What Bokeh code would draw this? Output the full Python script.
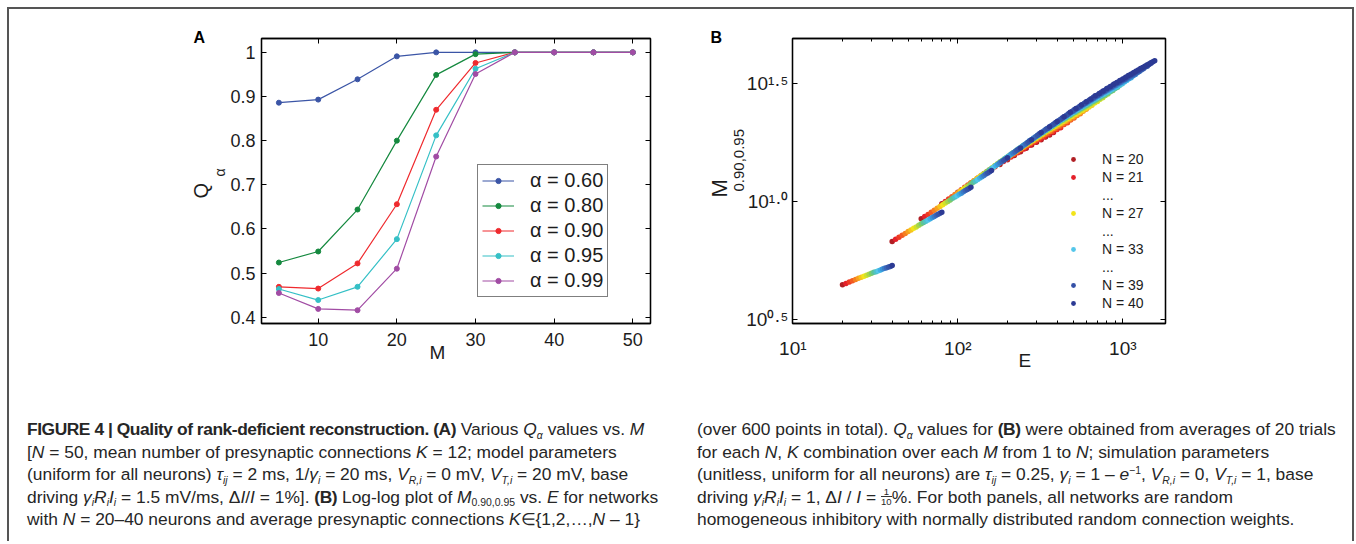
import math
from bokeh.plotting import figure
from bokeh.models import (ColumnDataSource, Legend, LegendItem, LinearAxis, LogAxis,
                          FixedTicker, CustomJSTickFormatter, Div, Title)
from bokeh.layouts import column, row
from bokeh.embed import file_html
from bokeh.resources import INLINE

FONT = "Liberation Sans"
TXT = "#1c1c1c"

# ---------------- Panel A data ----------------
m_values = [5, 10, 15, 20, 25, 30, 35, 40, 45, 50]
q_alpha_060 = [0.886, 0.893, 0.939, 0.991, 1.000, 1.000, 1.000, 1.000, 1.000, 1.000]
q_alpha_080 = [0.524, 0.549, 0.644, 0.800, 0.949, 0.996, 1.000, 1.000, 1.000, 1.000]
q_alpha_090 = [0.469, 0.465, 0.522, 0.656, 0.870, 0.976, 1.000, 1.000, 1.000, 1.000]
q_alpha_095 = [0.464, 0.439, 0.469, 0.577, 0.812, 0.963, 1.000, 1.000, 1.000, 1.000]
q_alpha_099 = [0.455, 0.419, 0.416, 0.510, 0.764, 0.951, 1.000, 1.000, 1.000, 1.000]
alpha_labels = ["α = 0.60", "α = 0.80", "α = 0.90", "α = 0.95", "α = 0.99"]
alpha_colors = ["#3b55a6", "#15893f", "#ef2a2e", "#35c0c6", "#a14ca4"]
a_x_ticks = [10, 20, 30, 40, 50]
a_y_ticks = [0.4, 0.5, 0.6, 0.7, 0.8, 0.9, 1.0]

# ---------------- Panel B data (log10 of M_0.90,0.95 for K = 1 .. N-1) ----------------
n_values = list(range(20, 41))
logm_n20 = [.647, .831, .927, .991, 1.040, 1.078, 1.109, 1.136, 1.158, 1.178, 1.196, 1.212, 1.227, 1.240, 1.252, 1.263, 1.274, 1.283, 1.293]
logm_n21 = [.653, .840, .937, 1.001, 1.051, 1.089, 1.120, 1.148, 1.170, 1.190, 1.208, 1.224, 1.239, 1.253, 1.265, 1.276, 1.287, 1.296, 1.306, 1.314]
logm_n22 = [.659, .849, .946, 1.011, 1.061, 1.100, 1.131, 1.159, 1.181, 1.201, 1.220, 1.236, 1.251, 1.264, 1.277, 1.288, 1.299, 1.308, 1.318, 1.327, 1.335]
logm_n23 = [.664, .857, .955, 1.021, 1.071, 1.110, 1.141, 1.169, 1.192, 1.212, 1.231, 1.247, 1.262, 1.276, 1.288, 1.299, 1.311, 1.320, 1.330, 1.338, 1.347, 1.355]
logm_n24 = [.670, .865, .964, 1.030, 1.080, 1.119, 1.151, 1.179, 1.202, 1.222, 1.241, 1.257, 1.273, 1.286, 1.299, 1.310, 1.322, 1.331, 1.341, 1.350, 1.358, 1.366, 1.373]
logm_n25 = [.675, .873, .972, 1.038, 1.089, 1.128, 1.160, 1.188, 1.211, 1.232, 1.251, 1.267, 1.283, 1.297, 1.309, 1.321, 1.332, 1.341, 1.352, 1.360, 1.369, 1.377, 1.384, 1.392]
logm_n26 = [.679, .880, .980, 1.046, 1.097, 1.137, 1.169, 1.197, 1.220, 1.241, 1.260, 1.277, 1.293, 1.306, 1.319, 1.331, 1.342, 1.352, 1.362, 1.371, 1.379, 1.387, 1.395, 1.402, 1.409]
logm_n27 = [.684, .887, .987, 1.054, 1.105, 1.145, 1.178, 1.206, 1.229, 1.250, 1.269, 1.286, 1.302, 1.316, 1.328, 1.340, 1.352, 1.361, 1.372, 1.380, 1.389, 1.397, 1.405, 1.412, 1.419, 1.425]
logm_n28 = [.688, .893, .994, 1.061, 1.113, 1.153, 1.186, 1.214, 1.238, 1.259, 1.278, 1.295, 1.311, 1.325, 1.337, 1.349, 1.361, 1.371, 1.381, 1.390, 1.398, 1.407, 1.414, 1.422, 1.428, 1.435, 1.441]
logm_n29 = [.692, .900, 1.001, 1.068, 1.120, 1.161, 1.194, 1.222, 1.246, 1.267, 1.286, 1.303, 1.319, 1.333, 1.346, 1.358, 1.370, 1.379, 1.390, 1.399, 1.407, 1.416, 1.424, 1.431, 1.438, 1.444, 1.451, 1.457]
logm_n30 = [.696, .906, 1.007, 1.075, 1.127, 1.168, 1.201, 1.230, 1.253, 1.275, 1.294, 1.311, 1.328, 1.342, 1.354, 1.366, 1.378, 1.388, 1.399, 1.407, 1.416, 1.425, 1.432, 1.440, 1.447, 1.453, 1.460, 1.466, 1.472]
logm_n31 = [.700, .912, 1.014, 1.082, 1.134, 1.175, 1.208, 1.237, 1.261, 1.283, 1.302, 1.319, 1.335, 1.350, 1.363, 1.375, 1.386, 1.396, 1.407, 1.416, 1.425, 1.433, 1.441, 1.449, 1.455, 1.462, 1.468, 1.475, 1.480, 1.486]
logm_n32 = [.703, .917, 1.020, 1.088, 1.141, 1.182, 1.215, 1.244, 1.268, 1.290, 1.309, 1.327, 1.343, 1.357, 1.370, 1.382, 1.394, 1.404, 1.415, 1.424, 1.433, 1.441, 1.449, 1.457, 1.463, 1.470, 1.477, 1.483, 1.489, 1.494, 1.500]
logm_n33 = [.707, .922, 1.025, 1.094, 1.147, 1.188, 1.222, 1.251, 1.275, 1.297, 1.316, 1.334, 1.350, 1.365, 1.378, 1.390, 1.402, 1.412, 1.423, 1.432, 1.440, 1.449, 1.457, 1.465, 1.471, 1.478, 1.485, 1.491, 1.497, 1.503, 1.508, 1.514]
logm_n34 = [.710, .928, 1.031, 1.100, 1.153, 1.194, 1.228, 1.258, 1.282, 1.304, 1.323, 1.341, 1.357, 1.372, 1.385, 1.397, 1.409, 1.419, 1.430, 1.439, 1.448, 1.457, 1.465, 1.472, 1.479, 1.486, 1.493, 1.499, 1.505, 1.510, 1.516, 1.522, 1.526]
logm_n35 = [.714, .933, 1.036, 1.106, 1.159, 1.201, 1.234, 1.264, 1.288, 1.310, 1.330, 1.348, 1.364, 1.379, 1.392, 1.404, 1.416, 1.426, 1.437, 1.446, 1.455, 1.464, 1.472, 1.480, 1.487, 1.493, 1.500, 1.507, 1.512, 1.518, 1.524, 1.529, 1.534, 1.540]
logm_n36 = [.717, .937, 1.042, 1.111, 1.165, 1.206, 1.240, 1.270, 1.295, 1.317, 1.337, 1.354, 1.371, 1.385, 1.399, 1.411, 1.423, 1.433, 1.444, 1.453, 1.462, 1.471, 1.479, 1.487, 1.494, 1.501, 1.507, 1.514, 1.520, 1.526, 1.531, 1.537, 1.541, 1.547, 1.552]
logm_n37 = [.720, .942, 1.047, 1.117, 1.170, 1.212, 1.246, 1.276, 1.301, 1.323, 1.343, 1.361, 1.377, 1.392, 1.405, 1.418, 1.430, 1.440, 1.451, 1.460, 1.469, 1.478, 1.486, 1.494, 1.501, 1.508, 1.515, 1.521, 1.527, 1.533, 1.538, 1.544, 1.549, 1.554, 1.559, 1.564]
logm_n38 = [.723, .947, 1.052, 1.122, 1.176, 1.218, 1.252, 1.282, 1.307, 1.329, 1.349, 1.367, 1.384, 1.398, 1.412, 1.424, 1.436, 1.447, 1.458, 1.467, 1.476, 1.485, 1.493, 1.501, 1.508, 1.515, 1.521, 1.528, 1.534, 1.540, 1.545, 1.551, 1.556, 1.562, 1.566, 1.571, 1.575]
logm_n39 = [.725, .951, 1.056, 1.127, 1.181, 1.223, 1.258, 1.288, 1.312, 1.335, 1.355, 1.373, 1.390, 1.404, 1.418, 1.430, 1.443, 1.453, 1.464, 1.473, 1.482, 1.491, 1.500, 1.507, 1.514, 1.521, 1.528, 1.535, 1.541, 1.547, 1.552, 1.558, 1.563, 1.568, 1.573, 1.578, 1.582, 1.587]
logm_n40 = [.729, .955, 1.061, 1.132, 1.186, 1.228, 1.263, 1.293, 1.318, 1.340, 1.360, 1.379, 1.395, 1.410, 1.424, 1.436, 1.449, 1.459, 1.470, 1.480, 1.489, 1.498, 1.506, 1.514, 1.521, 1.528, 1.535, 1.541, 1.547, 1.553, 1.559, 1.565, 1.569, 1.575, 1.580, 1.584, 1.589, 1.594, 1.598]
logm_by_n = [logm_n20, logm_n21, logm_n22, logm_n23, logm_n24, logm_n25, logm_n26,
             logm_n27, logm_n28, logm_n29, logm_n30, logm_n31, logm_n32, logm_n33,
             logm_n34, logm_n35, logm_n36, logm_n37, logm_n38, logm_n39, logm_n40]
n_colors = ["#b01e24", "#e4202a", "#ee3a24", "#f25a22", "#f57e20", "#f8a01e", "#f7c41c",
            "#f2e41a", "#cfe12c", "#a6d54a", "#7ccb6a", "#5cc39a", "#4ec2c8", "#54c6ea",
            "#3eb0e6", "#3a94d8", "#3a7cc8", "#3a66b8", "#3656aa", "#3450a6", "#2c3a94"]
legend_b_entries = [("N = 20", 20), ("N = 21", 21), ("...", None), ("N = 27", 27), ("...", None),
                    ("N = 33", 33), ("...", None), ("N = 39", 39), ("N = 40", 40)]
b_x_ticks = [10, 100, 1000]
b_x_minor = [20, 30, 40, 50, 60, 70, 80, 90, 200, 300, 400, 500, 600, 700, 800, 900]
b_x_tick_labels = ["10¹", "10²", "10³"]
b_y_ticks = [10 ** 0.5, 10 ** 1.0, 10 ** 1.5]
b_y_tick_labels = ["10⁰·⁵", "10¹·⁰", "10¹·⁵"]

PICK_LABEL = """
let best = 0;
let bd = Infinity;
for (let i = 0; i < tvals.length; i++) {
  const d = Math.abs(Math.log(tick) - Math.log(tvals[i]));
  if (d < bd) { bd = d; best = i; }
}
return ttext[best];
"""


def style_axis(ax, show_labels, major_in=5, minor_in=0, size="18px"):
    ax.axis_line_color = "black"
    ax.axis_line_width = 1.3
    ax.major_tick_line_color = "black"
    ax.major_tick_line_width = 1
    ax.major_tick_in = major_in
    ax.major_tick_out = 0
    ax.minor_tick_line_color = "black"
    ax.minor_tick_line_width = 1
    ax.minor_tick_in = minor_in
    ax.minor_tick_out = 0
    ax.major_label_text_font = FONT
    ax.major_label_text_color = TXT
    if show_labels:
        ax.major_label_text_font_size = size
    else:
        ax.formatter = CustomJSTickFormatter(code="return '';")
        ax.major_label_standoff = 0
        ax.major_label_text_font_size = "1px"


def title(text, size, align_offset, standoff, valign="bottom", bold=False):
    return Title(text=text, align="left", offset=align_offset, standoff=standoff,
                 vertical_align=valign, text_font=FONT, text_font_size=size,
                 text_font_style="bold" if bold else "normal",
                 text_color="black" if bold else TXT)


# ---------------- Figure A ----------------
xa0, xa1 = 2.79, 52.25
ya0, ya1 = 0.3859, 1.0314
pA = figure(width=681, height=371, x_range=(xa0, xa1), y_range=(ya0, ya1),
            output_backend="svg", toolbar_location=None,
            min_border_left=252, min_border_right=40, min_border_top=26, min_border_bottom=57)
pA.xgrid.visible = False
pA.ygrid.visible = False
pA.outline_line_color = "black"
pA.outline_line_width = 1.3
pA.background_fill_color = "white"
pA.border_fill_color = "white"

axA_b = pA.below[0]
axA_l = pA.left[0]
axA_b.ticker = FixedTicker(ticks=a_x_ticks)
axA_l.ticker = FixedTicker(ticks=a_y_ticks)
style_axis(axA_b, True)
style_axis(axA_l, True)
axA_l.formatter = CustomJSTickFormatter(code="return tick > 0.999 ? '1' : tick.toFixed(1);")
axA_b.major_label_standoff = 9
axA_l.major_label_standoff = 6
axA_t = LinearAxis(ticker=FixedTicker(ticks=a_x_ticks))
axA_r = LinearAxis(ticker=FixedTicker(ticks=a_y_ticks))
style_axis(axA_t, False)
style_axis(axA_r, False)
pA.add_layout(axA_t, "above")
pA.add_layout(axA_r, "right")

# axis titles and panel letter (side panels)
pA.add_layout(title("α", "14px", 147, 0), "left")
pA.add_layout(title("Q", "20px", 125, -4), "left")
pA.add_layout(title("M", "19px", 168, -14, valign="top"), "below")
pA.add_layout(title("A", "16px", -68, -14, bold=True), "above")

itemsA = []
for lab, q, col in zip(alpha_labels,
                       [q_alpha_060, q_alpha_080, q_alpha_090, q_alpha_095, q_alpha_099],
                       alpha_colors):
    src = ColumnDataSource(dict(x=m_values, y=q))
    rl = pA.line("x", "y", source=src, line_color=col, line_width=1.2)
    rs = pA.scatter("x", "y", source=src, marker="circle", size=5, fill_color=col, line_color=col)
    itemsA.append(LegendItem(label=lab, renderers=[rl, rs]))

legA = Legend(items=itemsA, location=(216, 26))
legA.padding = 4
legA.spacing = 2
legA.margin = 0
legA.label_height = 23
legA.glyph_height = 13
legA.glyph_width = 32
legA.label_standoff = 16
legA.border_line_color = "black"
legA.border_line_width = 1.5
legA.background_fill_color = "white"
legA.background_fill_alpha = 1
legA.label_text_font = FONT
legA.label_text_font_size = "20px"
legA.label_text_color = TXT
pA.add_layout(legA)

# ---------------- Figure B ----------------
xb0, xb1 = 10 ** 0.998, 10 ** 3.2586
yb0, yb1 = 10 ** 0.483, 10 ** 1.6924
pB = figure(width=662, height=371, x_axis_type="log", y_axis_type="log",
            x_range=(xb0, xb1), y_range=(yb0, yb1),
            output_backend="svg", toolbar_location=None,
            min_border_left=102, min_border_right=187, min_border_top=29, min_border_bottom=57)
pB.xgrid.visible = False
pB.ygrid.visible = False
pB.outline_line_color = "black"
pB.outline_line_width = 1.3
pB.background_fill_color = "white"
pB.border_fill_color = "white"

axB_b = pB.below[0]
axB_l = pB.left[0]
axB_b.ticker = FixedTicker(ticks=b_x_ticks, minor_ticks=b_x_minor)
axB_l.ticker = FixedTicker(ticks=b_y_ticks)
style_axis(axB_b, True, major_in=5, minor_in=3, size="19px")
style_axis(axB_l, True, major_in=5, size="19px")
axB_b.formatter = CustomJSTickFormatter(args=dict(tvals=b_x_ticks, ttext=b_x_tick_labels),
                                        code=PICK_LABEL)
axB_l.formatter = CustomJSTickFormatter(args=dict(tvals=b_y_ticks, ttext=b_y_tick_labels),
                                        code=PICK_LABEL)
axB_b.major_label_standoff = 14
axB_l.major_label_standoff = 4
axB_t = LogAxis(ticker=FixedTicker(ticks=b_x_ticks, minor_ticks=b_x_minor))
axB_r = LogAxis(ticker=FixedTicker(ticks=b_y_ticks))
style_axis(axB_t, False, major_in=5, minor_in=3)
style_axis(axB_r, False, major_in=5)
pB.add_layout(axB_t, "above")
pB.add_layout(axB_r, "right")

pB.add_layout(title("0.90,0.95", "15px", 132, 0), "left")
pB.add_layout(title("M", "22px", 126, 0), "left")
pB.add_layout(title("E", "19px", 226, -23, valign="top"), "below")
pB.add_layout(title("B", "16px", -82, -14, bold=True), "above")

rend_b = {}
for n, logm, col in zip(n_values, logm_by_n, n_colors):
    ks = list(range(1, len(logm) + 1))
    src = ColumnDataSource(dict(E=[n * k for k in ks], M=[10 ** v for v in logm]))
    rend_b[n] = pB.scatter("E", "M", source=src, marker="circle", size=5.5,
                           fill_color=col, line_color=None)

dots_r = pB.scatter(x=[], y=[], marker="circle", size=5.5, fill_color="#1a1a1a", line_color=None)
itemsB = []
for lab, n in legend_b_entries:
    itemsB.append(LegendItem(label=lab, renderers=[rend_b[n] if n is not None else dots_r]))
legB = Legend(items=itemsB, location=(271, 11))
legB.padding = 0
legB.spacing = 0
legB.margin = 0
legB.label_height = 18
legB.glyph_height = 12
legB.glyph_width = 20
legB.label_standoff = 19
legB.border_line_alpha = 0
legB.background_fill_alpha = 0
legB.label_text_font = FONT
legB.label_text_font_size = "14px"
legB.label_text_color = TXT
legB.label_text_baseline = "top"
pB.add_layout(legB)

# ---------------- Caption ----------------
def sub(s):
    return f'<span style="font-size:60%;line-height:0;position:relative;top:0.35em;">{s}</span>'


def sup(s):
    return f'<span style="font-size:60%;line-height:0;position:relative;top:-0.55em;">{s}</span>'


def bold(s):
    return f'<b style="letter-spacing:-0.45px;">{s}</b>'


frac = ('<span style="display:inline-block;position:relative;width:0.62em;height:0.7em;">'
        '<span style="position:absolute;left:0;right:0;bottom:-0.45em;font-size:55%;'
        'line-height:1;text-align:center;">'
        '<span style="display:block;border-bottom:1px solid #333;">1</span>'
        '<span style="display:block;">10</span></span></span>')

left_lines = [
    bold("FIGURE 4 | Quality of rank-deficient reconstruction. (A)") + " Various <i>Q</i>"
    + sub("<i>α</i>") + " values vs. <i>M</i>",
    "[<i>N</i> = 50, mean number of presynaptic connections <i>K</i> = 12; model parameters",
    "(uniform for all neurons) <i>τ</i>" + sub("<i>ij</i>") + " = 2 ms, 1/<i>γ</i>" + sub("<i>i</i>")
    + " = 20 ms, <i>V</i>" + sub("<i>R,i</i>") + " = 0 mV, <i>V</i>" + sub("<i>T,i</i>")
    + " = 20 mV, base",
    "driving <i>γ</i>" + sub("<i>i</i>") + "<i>R</i>" + sub("<i>i</i>") + "<i>I</i>" + sub("<i>i</i>")
    + " = 1.5 mV/ms, Δ<i>I</i>/<i>I</i> = 1%]. " + bold("(B)") + " Log-log plot of <i>M</i>"
    + sub("0.90,0.95") + " vs. <i>E</i> for networks",
    "with <i>N</i> = 20–40 neurons and average presynaptic connections <i>K</i>∈{1,2,…,<i>N</i> – 1}",
]
right_lines = [
    "(over 600 points in total). <i>Q</i>" + sub("<i>α</i>")
    + " values for " + bold("(B)") + " were obtained from averages of 20 trials",
    "for each <i>N</i>, <i>K</i> combination over each <i>M</i> from 1 to <i>N</i>; simulation parameters",
    "(unitless, uniform for all neurons) are <i>τ</i>" + sub("<i>ij</i>") + " = 0.25, <i>γ</i>"
    + sub("<i>i</i>") + " = 1 – <i>e</i>" + sup("−1") + ", <i>V</i>" + sub("<i>R,i</i>")
    + " = 0, <i>V</i>" + sub("<i>T,i</i>") + " = 1, base",
    "driving <i>γ</i>" + sub("<i>i</i>") + "<i>R</i>" + sub("<i>i</i>") + "<i>I</i>" + sub("<i>i</i>")
    + " = 1, Δ<i>I</i> / <i>I</i> = " + frac + "%. For both panels, all networks are random",
    "homogeneous inhibitory with normally distributed random connection weights.",
]


def caption_html(lines, pad_left):
    return ('<div style="font-family:\'Liberation Sans\',Arial,sans-serif;font-size:17.4px;'
            'line-height:22.5px;color:#262626;white-space:nowrap;'
            f'padding:38px 0 0 {pad_left}px;">' + "<br>".join(lines) + "</div>")


divL = Div(text=caption_html(left_lines, 18), width=681, height=163, margin=0)
divR = Div(text=caption_html(right_lines, 7), width=662, height=163, margin=0)

layout = column(row(pA, pB), row(divL, divR), margin=(9, 0, 0, 9),
                styles={"box-shadow": "-2px -2px 0 0 #555555, 2px -2px 0 0 #555555",
                        "background-color": "white"})

open("out.html", "w").write(file_html(layout, INLINE))
